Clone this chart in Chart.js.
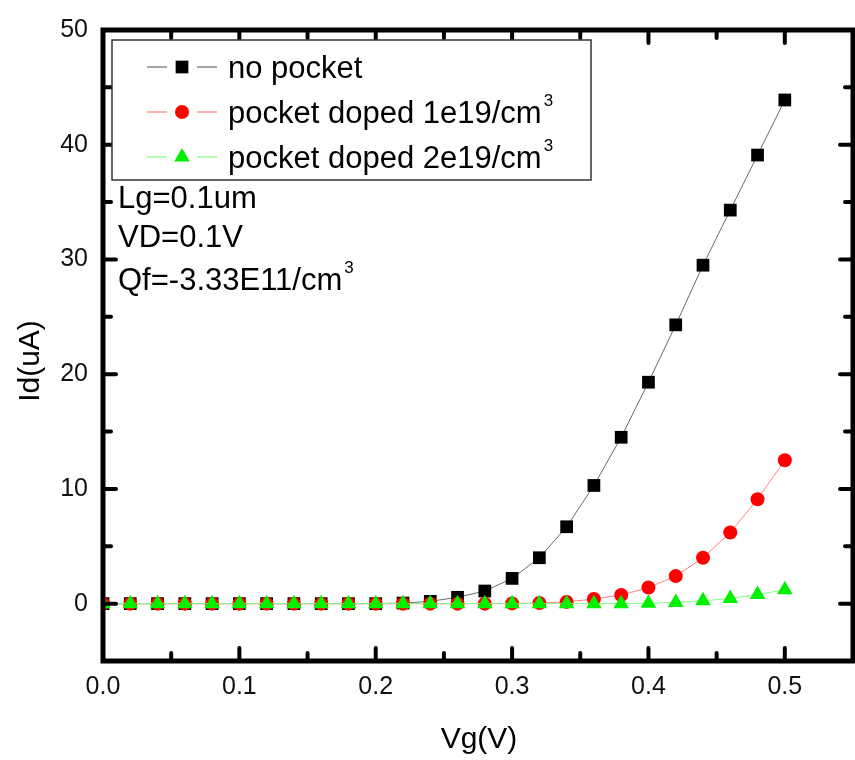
<!DOCTYPE html>
<html>
<head>
<meta charset="utf-8">
<script src="https://cdn.jsdelivr.net/npm/chart.js@4/dist/chart.umd.min.js"></script>
<style>
  html, body { margin: 0; padding: 0; background: #fff; overflow: hidden; }
  #wrap { width: 862px; height: 760px; }
</style>
</head>
<body>
<div id="wrap"><canvas id="chart"></canvas></div>
<script>
// Vg sweep (V)
const vg = [0.00, 0.02, 0.04, 0.06, 0.08, 0.10, 0.12, 0.14, 0.16, 0.18, 0.20, 0.22, 0.24,
            0.26, 0.28, 0.30, 0.32, 0.34, 0.36, 0.38, 0.40, 0.42, 0.44, 0.46, 0.48, 0.50]

// Id (uA)
const noPocket   = [0, 0, 0, 0, 0, 0, 0, 0, 0, 0, 0, 0.05, 0.2,
                    0.55, 1.1, 2.2, 4.0, 6.7, 10.3, 14.5, 19.3, 24.3, 29.5, 34.3, 39.1, 43.9]
const pocket1e19 = [0, 0, 0, 0, 0, 0, 0, 0, 0, 0, 0, 0, 0,
                    0, 0, 0.02, 0.05, 0.15, 0.4, 0.75, 1.4, 2.4, 4.0, 6.2, 9.1, 12.5]
const pocket2e19 = [0, 0, 0, 0, 0, 0, 0, 0, 0, 0, 0, 0, 0,
                    0, 0, 0, 0, 0, 0, 0, 0.03, 0.1, 0.25, 0.45, 0.8, 1.2]

const seriesNames = ['no pocket', 'pocket doped 1e19/cm', 'pocket doped 2e19/cm']
const seriesSup = ['', '3', '3']

const notes = ['Lg=0.1um', 'VD=0.1V', 'Qf=-3.33E11/cm']
const notesSup = ['', '', '3']

const xTicks = [0.0, 0.1, 0.2, 0.3, 0.4, 0.5]
const xMinor = [0.05, 0.15, 0.25, 0.35, 0.45]
const yTicks = [0, 10, 20, 30, 40, 50]
const yMinor = [5, 15, 25, 35, 45]

const FONT = '"Liberation Sans", Arial, sans-serif'

const markers = [
  {style: 'rect', radius: 9, color: '#000000', line: '#6a6a6a'},
  {style: 'circle', radius: 7, color: '#ff0000', line: '#ff8080'},
  {style: 'triangle', radius: 9, color: '#00f000', line: '#80ff80'}
]

function drawMarker(ctx, style, r, x, y, color) {
  ctx.fillStyle = color
  ctx.beginPath()
  if (style === 'rect') {
    const s = r * Math.SQRT1_2
    ctx.rect(x - s, y - s, 2 * s, 2 * s)
  } else if (style === 'circle') {
    ctx.arc(x, y, r, 0, Math.PI * 2)
  } else {
    ctx.moveTo(x, y - r)
    ctx.lineTo(x + r * Math.sqrt(3) / 2, y + r / 2)
    ctx.lineTo(x - r * Math.sqrt(3) / 2, y + r / 2)
    ctx.closePath()
  }
  ctx.fill()
}

function textSup(ctx, s, sup, x, y, size) {
  ctx.font = size + 'px ' + FONT
  ctx.fillText(s, x, y)
  if (sup) {
    const w = ctx.measureText(s).width
    ctx.font = Math.round(size * 0.56) + 'px ' + FONT
    ctx.fillText(sup, x + w + 2, y - size * 0.56)
  }
}

const decor = {
  id: 'decor',
  afterDraw(chart) {
    const {ctx, chartArea: a, scales: {x, y}} = chart
    ctx.save()

    // frame
    ctx.strokeStyle = '#000'
    ctx.lineWidth = 5
    ctx.strokeRect(a.left, a.top, a.right - a.left, a.bottom - a.top)

    // inward ticks on all four sides
    ctx.lineWidth = 4
    ctx.lineCap = 'round'
    const tick = (x1, y1, x2, y2) => { ctx.beginPath(); ctx.moveTo(x1, y1); ctx.lineTo(x2, y2); ctx.stroke() }
    xTicks.forEach(v => { const p = x.getPixelForValue(v); tick(p, a.bottom, p, a.bottom - 13); tick(p, a.top, p, a.top + 13) })
    xMinor.forEach(v => { const p = x.getPixelForValue(v); tick(p, a.bottom, p, a.bottom - 8); tick(p, a.top, p, a.top + 8) })
    yTicks.forEach(v => { const p = y.getPixelForValue(v); tick(a.left, p, a.left + 13, p); tick(a.right, p, a.right - 13, p) })
    yMinor.forEach(v => { const p = y.getPixelForValue(v); tick(a.left, p, a.left + 8, p); tick(a.right, p, a.right - 8, p) })

    // legend box
    const bx = a.left + 9, by = a.top + 10
    ctx.fillStyle = '#fff'
    ctx.fillRect(bx, by, 479, 140)
    ctx.lineWidth = 1.5
    ctx.lineCap = 'butt'
    ctx.strokeStyle = '#333'
    ctx.strokeRect(bx, by, 479, 140)

    ctx.textAlign = 'left'
    ctx.textBaseline = 'alphabetic'
    seriesNames.forEach((name, i) => {
      const m = markers[i]
      const cy = by + 27 + i * 45
      const cx = bx + 70
      ctx.strokeStyle = m.line
      ctx.lineWidth = 1.2
      tick(bx + 35, cy, cx - 15, cy)
      tick(cx + 15, cy, bx + 105, cy)
      drawMarker(ctx, m.style, m.radius, cx, cy, m.color)
      ctx.fillStyle = '#000'
      textSup(ctx, name, seriesSup[i], bx + 116, cy + 11, 31)
    })

    // notes
    ctx.fillStyle = '#000'
    notes.forEach((n, i) => textSup(ctx, n, notesSup[i], a.left + 15, [208, 247, 290][i], 31))

    // axis titles
    ctx.font = '30px ' + FONT
    ctx.textAlign = 'center'
    ctx.fillText('Vg(V)', 479, 748)
    ctx.save()
    ctx.translate(39, 361)
    ctx.rotate(-Math.PI / 2)
    ctx.fillText('Id(uA)', 0, 0)
    ctx.restore()

    ctx.restore()
  }
}

const datasets = [noPocket, pocket1e19, pocket2e19].map((vals, i) => ({
  label: seriesNames[i] + seriesSup[i],
  data: vg.map((v, k) => ({x: v, y: vals[k]})),
  borderColor: markers[i].line,
  borderWidth: 1,
  backgroundColor: markers[i].color,
  pointBackgroundColor: markers[i].color,
  pointBorderWidth: 0,
  pointStyle: markers[i].style,
  pointRadius: markers[i].radius,
  order: 2 - i
}))

new Chart(document.getElementById('chart'), {
  type: 'line',
  data: {datasets},
  options: {
    responsive: true,
    maintainAspectRatio: false,
    animation: false,
    layout: {padding: {top: 25, right: 3, left: 0, bottom: 0}},
    plugins: {legend: {display: false}, tooltip: {enabled: false}},
    scales: {
      x: {
        type: 'linear',
        min: 0,
        max: 0.55,
        grid: {display: false, drawTicks: false},
        border: {display: false},
        afterFit(scale) { scale.height = 99 },
        afterBuildTicks(scale) { scale.ticks = xTicks.map(v => ({value: v})) },
        ticks: {
          padding: 11,
          color: '#111',
          font: {family: FONT, size: 25},
          callback: v => v.toFixed(1)
        }
      },
      y: {
        min: -5,
        max: 50,
        grid: {display: false, drawTicks: false},
        border: {display: false},
        afterFit(scale) { scale.width = 103 },
        afterBuildTicks(scale) { scale.ticks = yTicks.map(v => ({value: v})) },
        ticks: {
          padding: 15,
          color: '#111',
          font: {family: FONT, size: 25},
          callback: v => String(v)
        }
      }
    }
  },
  plugins: [decor]
})
</script>
</body>
</html>
